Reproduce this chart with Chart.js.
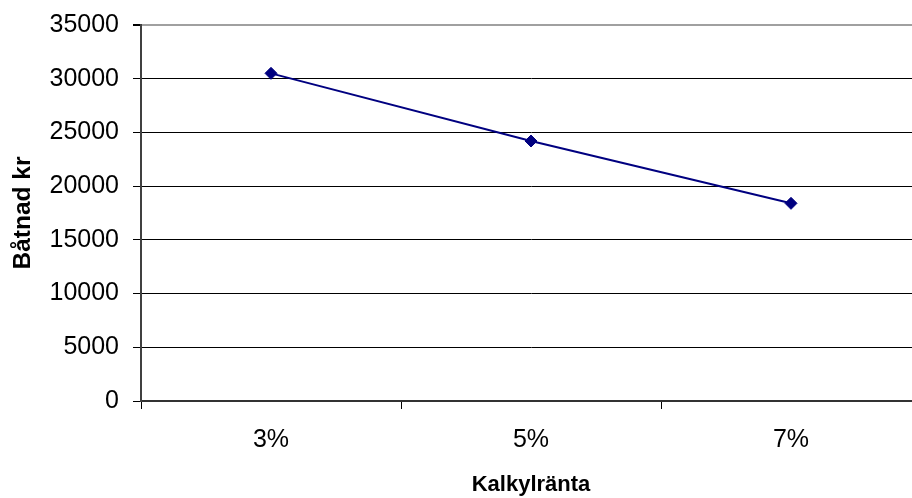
<!DOCTYPE html>
<html lang="sv">
<head>
  <meta charset="UTF-8" />
  <title>Båtnad kr vs Kalkylränta</title>
  <script src="https://cdn.jsdelivr.net/npm/chart.js"></script>
  <style>
    * { margin: 0; padding: 0; box-sizing: border-box; }
    body { background: #fff; width: 912px; height: 498px; overflow: hidden; }
    canvas { display: block; }
  </style>
</head>
<body>
  <canvas id="chart" width="928" height="498"></canvas>
  <script>
    // data
    const categories = ['3%', '5%', '7%'];
    const batnad = [30500, 24200, 18400];
    const yMin = 0, yMax = 35000, yStep = 5000;
    const xTitle = 'Kalkylränta';
    const yTitle = 'Båtnad kr';

    const font = 'Liberation Sans, Arial, sans-serif';

    new Chart(document.getElementById('chart').getContext('2d'), {
      type: 'line',
      data: {
        labels: categories,
        datasets: [{
          data: batnad,
          borderColor: '#000080',
          backgroundColor: '#000080',
          borderWidth: 2,
          pointStyle: 'rectRot',
          pointRadius: 6,
          pointBorderWidth: 1,
          tension: 0
        }]
      },
      options: {
        responsive: false,
        animation: false,
        layout: { padding: { top: 25, right: 1, bottom: 0, left: 0 } },
        plugins: { legend: { display: false }, tooltip: { enabled: false } },
        scales: {
          x: {
            offset: true,
            afterFit: s => { s.height = 97; },
            grid: { offset: true, drawOnChartArea: false, tickLength: 8, color: '#000' },
            border: { color: '#333', width: 2 },
            ticks: { color: '#000', font: { family: font, size: 25 }, padding: 16 },
            title: { display: true, text: xTitle, color: '#000', font: { family: font, size: 22, weight: 'bold' }, padding: { top: 0, bottom: 0 } }
          },
          y: {
            min: yMin, max: yMax,
            afterFit: s => { s.width = 141; s.paddingTop = 0; },
            grid: {
              tickLength: 8,
              tickColor: '#000',
              color: c => c.tick && c.tick.value === yMax ? '#a0a0a0' : '#000',
              lineWidth: c => c.tick && c.tick.value === yMax ? 2 : 1
            },
            border: { color: '#404040', width: 2 },
            ticks: {
              stepSize: yStep,
              color: '#000',
              font: { family: font, size: 25 },
              padding: 14,
              callback: v => String(v)
            },
            title: { display: true, text: yTitle, color: '#000', font: { family: font, size: 24.5, weight: 'bold' }, padding: { top: 9, bottom: 0 } }
          }
        }
      }
    });
  </script>
</body>
</html>
